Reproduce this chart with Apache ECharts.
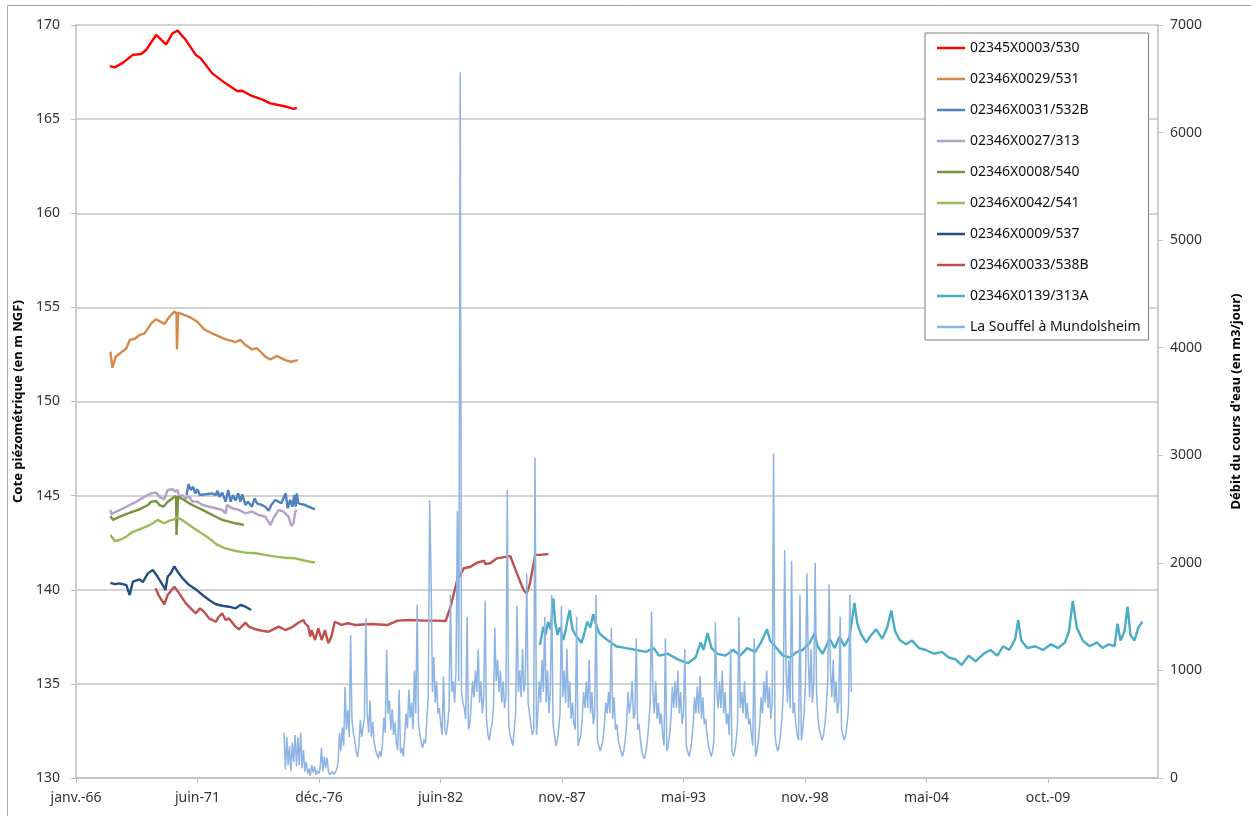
<!DOCTYPE html>
<html><head><meta charset="utf-8">
<script src="https://cdn.jsdelivr.net/npm/echarts@6/dist/echarts.min.js"></script>
<style>html,body{margin:0;padding:0;background:#fff}#c{width:1251px;height:816px}</style>
</head><body><div id="c"></div><script>
const FONT = 'Noto Sans';
const xTickLabels = ['janv.-66','juin-71','déc.-76','juin-82','nov.-87','mai-93','nov.-98','mai-04','oct.-09'];
const seriesNames = ['02345X0003/530','02346X0029/531','02346X0031/532B','02346X0027/313','02346X0008/540','02346X0042/541','02346X0009/537','02346X0033/538B','02346X0139/313A','La Souffel à Mundolsheim'];

// [decimal year, level in m NGF]
const s530 = [[1967.52,167.82],[1967.75,167.75],[1968.12,168.0],[1968.56,168.41],[1968.94,168.46],[1969.16,168.67],[1969.61,169.47],[1970.06,168.97],[1970.35,169.56],[1970.58,169.70],[1970.95,169.20],[1971.40,168.41],[1971.62,168.23],[1972.14,167.43],[1972.74,166.90],[1973.26,166.49],[1973.49,166.51],[1973.93,166.23],[1974.38,166.05],[1974.76,165.84],[1975.28,165.71],[1975.58,165.63],[1975.80,165.54],[1975.95,165.59]];
const s531 = [[1967.55,152.65],[1967.64,151.80],[1967.79,152.38],[1968.12,152.68],[1968.27,152.83],[1968.42,153.27],[1968.64,153.32],[1968.86,153.53],[1969.09,153.62],[1969.39,154.15],[1969.61,154.37],[1969.98,154.12],[1970.21,154.50],[1970.43,154.77],[1970.53,154.68],[1970.55,152.77],[1970.60,154.72],[1970.65,154.77],[1971.10,154.50],[1971.47,154.24],[1971.77,153.84],[1972.14,153.62],[1972.74,153.30],[1972.97,153.23],[1973.19,153.16],[1973.41,153.27],[1973.64,153.00],[1973.93,152.77],[1974.16,152.83],[1974.53,152.38],[1974.76,152.24],[1975.05,152.42],[1975.43,152.20],[1975.70,152.11],[1975.99,152.20]];
const s532B = [[1970.98,145.03],[1971.07,145.60],[1971.18,145.30],[1971.28,145.47],[1971.37,145.12],[1971.47,145.34],[1971.58,145.03],[1971.85,145.07],[1972.14,145.12],[1972.30,145.03],[1972.37,145.26],[1972.47,144.94],[1972.59,145.16],[1972.74,144.68],[1972.86,145.30],[1972.97,144.68],[1973.07,145.03],[1973.19,144.73],[1973.31,145.12],[1973.41,144.68],[1973.49,145.07],[1973.64,144.50],[1973.75,144.68],[1973.93,144.41],[1974.05,144.86],[1974.16,144.59],[1974.38,144.50],[1974.53,144.41],[1974.68,144.20],[1974.80,144.50],[1974.98,144.77],[1975.13,144.68],[1975.25,144.59],[1975.35,144.86],[1975.45,145.12],[1975.54,144.33],[1975.65,144.77],[1975.75,144.41],[1975.84,145.03],[1975.90,144.41],[1975.95,145.12],[1976.02,144.59],[1976.32,144.50],[1976.77,144.27]];
const s313 = [[1967.55,144.24],[1967.60,144.02],[1967.82,144.15],[1968.27,144.41],[1968.72,144.68],[1969.09,144.94],[1969.39,145.12],[1969.61,145.16],[1969.76,144.94],[1969.98,144.80],[1970.13,145.30],[1970.35,145.34],[1970.47,145.21],[1970.58,145.30],[1970.65,144.94],[1970.80,145.03],[1970.95,144.86],[1971.10,144.94],[1971.25,144.68],[1971.47,144.68],[1971.70,144.50],[1972.00,144.41],[1972.30,144.33],[1972.59,144.24],[1972.74,144.06],[1972.81,144.50],[1973.04,144.33],[1973.34,144.24],[1973.64,144.06],[1973.93,144.15],[1974.23,143.97],[1974.53,143.88],[1974.76,143.44],[1974.90,143.80],[1975.13,144.24],[1975.35,144.15],[1975.58,143.88],[1975.70,143.39],[1975.80,143.53],[1975.88,144.15],[1975.95,144.24]];
const s540 = [[1967.55,143.92],[1967.67,143.71],[1967.97,143.88],[1968.42,144.09],[1968.86,144.27],[1969.24,144.50],[1969.39,144.68],[1969.61,144.71],[1969.76,144.50],[1969.94,144.41],[1970.13,144.68],[1970.35,144.86],[1970.51,144.98],[1970.53,142.91],[1970.60,144.94],[1970.65,144.98],[1970.88,144.77],[1971.10,144.59],[1971.40,144.41],[1971.70,144.24],[1972.00,144.06],[1972.30,143.88],[1972.59,143.71],[1972.89,143.62],[1973.19,143.53],[1973.56,143.44]];
const s541 = [[1967.55,142.91],[1967.75,142.59],[1967.97,142.64],[1968.27,142.82],[1968.49,143.03],[1968.86,143.21],[1969.24,143.39],[1969.46,143.53],[1969.68,143.71],[1969.83,143.62],[1969.98,143.53],[1970.21,143.67],[1970.43,143.74],[1970.53,143.85],[1970.73,143.74],[1971.10,143.44],[1971.55,143.08],[1972.00,142.73],[1972.37,142.38],[1972.74,142.20],[1973.19,142.06],[1973.64,141.97],[1974.09,141.94],[1974.53,141.85],[1974.98,141.76],[1975.43,141.70],[1975.88,141.67],[1976.32,141.54],[1976.77,141.44]];
const s537 = [[1967.55,140.37],[1967.75,140.30],[1967.97,140.34],[1968.27,140.25],[1968.42,139.72],[1968.56,140.43],[1968.86,140.55],[1969.01,140.41],[1969.24,140.87],[1969.46,141.05],[1969.68,140.69],[1969.91,140.25],[1970.03,139.99],[1970.13,140.69],[1970.28,140.89],[1970.43,141.24],[1970.58,140.96],[1970.80,140.61],[1971.10,140.25],[1971.40,140.02],[1971.70,139.72],[1972.00,139.46],[1972.30,139.23],[1972.59,139.15],[1972.89,139.10],[1973.19,139.01],[1973.41,139.19],[1973.64,139.10],[1973.89,138.92]];
const s538B = [[1969.58,140.08],[1969.76,139.63],[1969.98,139.23],[1970.13,139.72],[1970.43,140.16],[1970.65,139.81],[1970.95,139.28],[1971.25,138.92],[1971.40,138.75],[1971.59,139.01],[1971.77,138.83],[1972.00,138.48],[1972.30,138.30],[1972.44,138.57],[1972.59,138.75],[1972.74,138.39],[1972.89,138.48],[1973.19,138.04],[1973.34,137.90],[1973.64,138.25],[1973.79,138.04],[1974.09,137.90],[1974.38,137.82],[1974.68,137.77],[1974.98,137.95],[1975.13,138.04],[1975.43,137.86],[1975.72,138.00],[1976.02,138.25],[1976.25,138.39],[1976.32,138.22],[1976.47,138.04],[1976.55,137.51],[1976.62,137.86],[1976.77,137.33],[1976.92,137.95],[1977.07,137.33],[1977.22,137.86],[1977.37,137.16],[1977.51,137.51],[1977.66,138.30],[1977.96,138.13],[1978.26,138.22],[1978.56,138.13],[1979.30,138.18],[1980.05,138.13],[1980.50,138.36],[1981.09,138.39],[1981.69,138.36],[1982.29,138.36],[1982.66,138.34],[1982.88,139.10],[1983.18,140.52],[1983.48,141.14],[1983.78,141.22],[1984.08,141.44],[1984.38,141.54],[1984.45,141.37],[1984.67,141.41],[1984.97,141.67],[1985.42,141.76],[1985.57,141.79],[1985.87,140.87],[1986.17,139.99],[1986.31,139.81],[1986.46,140.34],[1986.69,141.85],[1986.91,141.85],[1987.29,141.90]];
const s313A = [[1986.91,137.07],[1987.06,138.04],[1987.16,137.6],[1987.28,138.3],[1987.39,137.9],[1987.51,139.55],[1987.59,138.3],[1987.70,137.6],[1987.81,138.0],[1987.96,137.33],[1988.06,137.8],[1988.15,138.4],[1988.25,138.92],[1988.37,137.9],[1988.51,137.6],[1988.64,137.4],[1988.78,137.17],[1988.91,137.7],[1989.04,138.3],[1989.18,138.0],[1989.31,138.7],[1989.45,138.1],[1989.58,137.7],[1989.76,137.5],[1989.98,137.3],[1990.34,137.0],[1990.79,136.9],[1991.24,136.8],[1991.68,136.7],[1992.04,136.9],[1992.27,136.5],[1992.67,136.6],[1993.12,136.3],[1993.57,136.1],[1993.92,136.4],[1994.15,137.2],[1994.28,136.8],[1994.46,137.7],[1994.64,136.9],[1994.91,136.6],[1995.26,136.5],[1995.62,136.8],[1995.93,136.5],[1996.25,136.9],[1996.61,136.7],[1996.87,137.2],[1997.14,137.9],[1997.28,137.3],[1997.50,137.0],[1997.86,136.5],[1998.17,136.4],[1998.49,136.7],[1998.75,136.8],[1999.07,137.2],[1999.29,137.7],[1999.42,137.0],[1999.65,136.6],[1999.96,137.4],[2000.19,136.9],[2000.41,137.5],[2000.63,137.0],[2000.86,137.5],[2001.08,139.3],[2001.21,138.2],[2001.39,137.6],[2001.62,137.2],[2001.84,137.6],[2002.06,137.9],[2002.33,137.4],[2002.56,138.0],[2002.74,138.9],[2002.91,137.8],[2003.14,137.3],[2003.41,137.1],[2003.68,137.3],[2003.99,136.9],[2004.30,136.8],[2004.66,136.6],[2005.02,136.7],[2005.33,136.4],[2005.64,136.3],[2005.91,136.0],[2006.23,136.5],[2006.54,136.2],[2006.90,136.6],[2007.21,136.8],[2007.52,136.5],[2007.79,137.0],[2008.06,136.8],[2008.33,137.4],[2008.46,138.4],[2008.60,137.3],[2008.87,136.9],[2009.22,137.0],[2009.58,136.8],[2009.94,137.1],[2010.25,136.9],[2010.57,137.2],[2010.75,137.8],[2010.92,139.4],[2011.10,138.0],[2011.37,137.3],[2011.68,137.0],[2012.00,137.2],[2012.27,136.9],[2012.53,137.1],[2012.80,137.0],[2012.94,138.2],[2013.07,137.3],[2013.25,137.8],[2013.39,139.1],[2013.52,137.6],[2013.70,137.3],[2013.88,138.0],[2014.06,138.3]];

// La Souffel: discharge (m3/jour), one reading every 1/16 year from souffelStart
const souffelStart = 1975.375;
const souffelStep = 1/16;
const souffelValues = [
  420,80,380,120,300,60,330,150,400,110,
  380,120,420,90,260,60,150,40,90,20,120,50,110,30,70,40,
  90,280,60,200,90,190,60,30,20,60,30,20,80,150,420,250,
  470,300,846,450,630,380,1330,540,420,350,250,195,300,540,380,480,
  550,1487,600,420,720,380,520,330,260,220,180,250,200,320,560,420,
  1190,600,720,450,640,400,520,320,260,818,230,280,200,380,600,460,
  820,560,700,450,1000,600,1608,500,400,320,280,360,320,560,750,2580,
  1900,800,1125,700,900,600,650,500,400,940,450,400,500,650,1700,800,
  900,700,1000,2480,900,6560,800,700,650,550,1500,450,500,700,900,750,
  1000,800,1200,700,900,600,750,1650,550,400,350,450,500,650,1400,900,
  1100,800,1000,700,900,650,750,2680,500,400,350,300,450,600,1600,800,
  1000,750,1200,800,900,1900,700,600,500,400,450,2980,400,600,900,700,
  1100,800,1500,700,1000,600,800,1700,500,400,300,350,450,600,1600,750,
  1000,700,1200,650,900,550,700,500,450,1500,300,350,400,550,800,650,
  900,650,1100,600,800,500,600,1700,350,300,250,300,350,500,700,600,
  800,600,1400,550,750,450,500,350,300,250,200,250,350,500,800,600,
  700,900,550,600,1300,450,500,350,250,200,180,250,350,500,700,1550,
  800,600,900,550,700,500,600,400,300,1300,250,300,400,550,850,650,
  900,650,1000,600,800,500,600,1200,300,250,200,250,350,500,750,600,
  850,600,950,550,750,500,550,400,300,250,200,250,350,1450,800,650,
  900,650,1000,600,800,500,600,400,1200,250,200,250,350,500,1500,650,
  800,600,900,550,700,500,550,400,300,1300,200,250,350,500,750,600,
  900,700,1000,650,850,550,700,3020,400,300,250,300,400,550,800,2120,
  1000,700,1100,650,2020,600,700,500,400,350,1700,350,450,600,900,1900,
  1100,750,1200,700,900,2000,800,550,450,400,350,400,500,650,900,1800,
  1000,750,1100,700,900,600,700,1500,450,400,350,400,500,650,1700,800
];
const souffel = souffelValues.map((v, i) => [souffelStart + i * souffelStep, v]);

const allData = [s530, s531, s532B, s313, s540, s541, s537, s538B, s313A, souffel];
const colors = ['#FF0000','#D68A48','#4F81BD','#B3A2C7','#77933C','#9BBB59','#254F80','#C0504D','#4BACC6','#8DB4E2'];

function toDays(y){ return (y - 1966) * 365.25; }

const chart = echarts.init(document.getElementById('c'), null, {renderer:'canvas'});
const series = allData.map((d, i) => ({
  name: seriesNames[i],
  type: 'line',
  yAxisIndex: i === 9 ? 1 : 0,
  data: d.map(p => [toDays(p[0]), p[1]]),
  symbol: 'none',
  showSymbol: false,
  lineStyle: {color: colors[i], width: i === 9 ? 1.5 : 2.4},
  itemStyle: {color: colors[i]},
  z: i === 9 ? 3 : 2,
  animation: false
}));

const axisGray = '#BFBFBF';
const xTickValues = [0,2000,4000,6000,8000,10000,12000,14000,16000];
chart.setOption({
  animation: false,
  backgroundColor: '#fff',
  textStyle: {fontFamily: FONT},
  graphic: [{type:'rect', shape:{x:7.5, y:5.5, width:1300, height:900}, style:{fill:null, stroke:'#A6A6A6', lineWidth:1}, silent:true}],
  grid: {left:76, right:85, top:25, bottom:38},
  legend: {
    orient:'vertical', left:925, top:33,
    icon:'rect',
    itemWidth:28, itemHeight:2.5, itemGap:15,
    padding:[7,8,5,12],
    borderColor:'#808080', borderWidth:1, backgroundColor:'#fff',
    textStyle:{fontSize:14, lineHeight:16, color:'#111', fontFamily:FONT},
    data: seriesNames
  },
  xAxis: {
    type:'value', min:0, max:17810, interval:2000,
    axisLine:{show:true, lineStyle:{color:axisGray, width:1.5}},
    axisTick:{show:true, length:5, lineStyle:{color:axisGray}, customValues:xTickValues},
    axisLabel:{fontSize:14, color:'#333', margin:13, fontFamily:FONT,
      customValues:xTickValues,
      formatter: v => (v % 2000 === 0 ? (xTickLabels[v/2000] || '') : '')},
    splitLine:{show:false}
  },
  yAxis: [{
    type:'value', min:130, max:170, interval:5, position:'left',
    name:'Cote piézométrique (en m NGF)', nameLocation:'middle', nameGap:50, nameRotate:90,
    nameTextStyle:{fontWeight:'bold', fontSize:13, color:'#000', fontFamily:FONT},
    axisLine:{show:true, lineStyle:{color:axisGray, width:1.5}},
    axisTick:{show:true, length:5, lineStyle:{color:axisGray}},
    axisLabel:{fontSize:14, color:'#333', margin:16, fontFamily:FONT, formatter: v => String(v)},
    splitLine:{show:true, lineStyle:{color:'#C4C4C4', width:1.5}}
  },{
    type:'value', min:0, max:7000, interval:1000, position:'right',
    name:"Débit du cours d'eau (en m3/jour)", nameLocation:'middle', nameGap:72, nameRotate:90,
    nameTextStyle:{fontWeight:'bold', fontSize:13, color:'#000', fontFamily:FONT},
    axisLine:{show:true, lineStyle:{color:axisGray, width:1.5}},
    axisTick:{show:true, length:5, lineStyle:{color:axisGray}},
    axisLabel:{fontSize:14, color:'#333', margin:12, fontFamily:FONT, formatter: v => String(v)},
    splitLine:{show:false}
  }],
  series: series
});
</script></body></html>
